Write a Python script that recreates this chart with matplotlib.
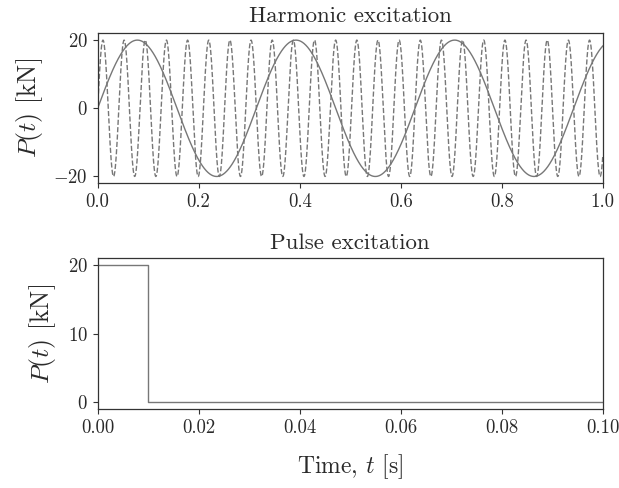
import numpy as np
import matplotlib
matplotlib.use("Agg")
import matplotlib.pyplot as plt

plt.rcParams["font.family"] = "serif"
plt.rcParams["font.serif"] = ["cmr10", "DejaVu Serif"]
plt.rcParams["mathtext.fontset"] = "cm"
plt.rcParams["axes.formatter.use_mathtext"] = True
plt.rcParams["axes.unicode_minus"] = True
plt.rcParams["text.color"] = "#2a2a2a"
plt.rcParams["axes.labelcolor"] = "#2a2a2a"
plt.rcParams["xtick.labelcolor"] = "#2a2a2a"
plt.rcParams["ytick.labelcolor"] = "#2a2a2a"

# Harmonic excitation parameters
amplitude_kN = 20.0
omega_slow = 20.0    # rad/s (solid)
omega_fast = 150.0   # rad/s (dashed)
t_harm = np.linspace(0.0, 1.0, 4001)

# Pulse excitation
pulse_t = [0.0, 0.01, 0.01, 0.1]
pulse_P = [20.0, 20.0, 0.0, 0.0]

line_color = "#777777"

fig = plt.figure(figsize=(6.19, 4.88), dpi=100)
ax1 = fig.add_axes([0.1578, 0.6244, 0.8159, 0.3074])
ax2 = fig.add_axes([0.1578, 0.1619, 0.8159, 0.3088])

ax1.plot(t_harm, amplitude_kN * np.sin(omega_fast * t_harm), "--", color=line_color, lw=1.0)
ax1.plot(t_harm, amplitude_kN * np.sin(omega_slow * t_harm), "-", color=line_color, lw=1.0)
ax1.set_xlim(0, 1)
ax1.set_yticks([-20, 0, 20])
ax1.set_xticks([0.0, 0.2, 0.4, 0.6, 0.8, 1.0])
ax1.set_xticklabels(["0.0", "0.2", "0.4", "0.6", "0.8", "1.0"])
ax1.set_title("Harmonic excitation", fontsize=16.5, pad=8)
ax1.set_ylabel("$P(t)$ [kN]", fontsize=18.5, labelpad=6)

ax2.plot(pulse_t, pulse_P, "-", color=line_color, lw=1.0)
ax2.set_xlim(0, 0.1)
ax2.set_yticks([0, 10, 20])
ax2.set_xticks([0.0, 0.02, 0.04, 0.06, 0.08, 0.10])
ax2.set_xticklabels(["0.00", "0.02", "0.04", "0.06", "0.08", "0.10"])
ax2.set_title("Pulse excitation", fontsize=16.5, pad=7)
ax2.set_ylabel("$P(t)$ [kN]", fontsize=18.5, labelpad=7)
ax2.set_xlabel("Time, $t$ [s]", fontsize=17, labelpad=11)

for ax in (ax1, ax2):
    ax.tick_params(labelsize=13.5, color="#333333")
    for s in ax.spines.values():
        s.set_color("#333333")
        s.set_linewidth(0.9)

fig.savefig("out.png", dpi=100)
